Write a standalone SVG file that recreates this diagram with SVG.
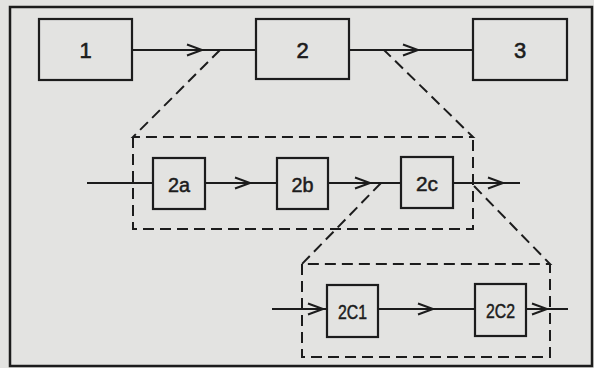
<svg xmlns="http://www.w3.org/2000/svg" xmlns:xlink="http://www.w3.org/1999/xlink" width="594" height="368" viewBox="0 0 594 368">
  <style>
    .box { fill: none; stroke: #1c1c1c; stroke-width: 2.2; }
    .line { fill: none; stroke: #1c1c1c; stroke-width: 2; }
    .dash { fill: none; stroke: #1c1c1c; stroke-width: 2; stroke-dasharray: 11 6; }
    .head { fill: none; stroke: #1c1c1c; stroke-width: 2; stroke-linejoin: miter; }
    .big { font-family: "Liberation Sans", "DejaVu Sans", sans-serif; font-size: 22px; fill: #1c1c1c; stroke: #1c1c1c; stroke-width: 0.6; text-anchor: middle; }
    .small { font-family: "Liberation Sans", "DejaVu Sans", sans-serif; font-size: 19.5px; fill: #1c1c1c; stroke: #1c1c1c; stroke-width: 0.5; text-anchor: middle; }
  </style>
  <defs>
    <path id="chev" d="M-15,-5.5 L0,0 L-15,5.5"/>
  </defs>
  <rect x="0" y="0" width="594" height="368" fill="#e3e3e1"/>
  <rect x="10" y="7" width="582" height="359" fill="none" stroke="#1c1c1c" stroke-width="2.5"/>

  <g id="connectors">
    <path class="line" d="M132,50 H256 M349,50 H473"/>
    <path class="line" d="M87,183 H153 M205,183 H277 M328,183 H401 M453,183 H520"/>
    <path class="line" d="M272,309 H327 M378,309 H475 M526,309 H568"/>
    <g class="head">
      <use xlink:href="#chev" transform="translate(202,50)"/>
      <use xlink:href="#chev" transform="translate(418,50)"/>
      <use xlink:href="#chev" transform="translate(250,183)"/>
      <use xlink:href="#chev" transform="translate(370,183)"/>
      <use xlink:href="#chev" transform="translate(503,183)"/>
      <use xlink:href="#chev" transform="translate(323,309)"/>
      <use xlink:href="#chev" transform="translate(433,309)"/>
      <use xlink:href="#chev" transform="translate(547,309)"/>
    </g>
    <path class="dash" d="M220,50 L133,137 L473,137 L384,50 M133,137 L133,229 L473,229 L473,137"/>
    <path class="dash" d="M381,183 L302,264 L550,264 L473,185 M302,264 L302,357 L550,357 L550,264"/>
  </g>

  <g id="n1"><rect class="box" x="39" y="19" width="93" height="61"/><text class="big" x="85.5" y="58">1</text></g>
  <g id="n2"><rect class="box" x="256" y="19" width="93" height="60"/><text class="big" x="302.5" y="58">2</text></g>
  <g id="n3"><rect class="box" x="473" y="19" width="94" height="61"/><text class="big" x="520" y="58">3</text></g>
  <g id="n2a"><rect class="box" x="153" y="158" width="52" height="51"/><text class="small" x="179" y="191.5" textLength="22" lengthAdjust="spacingAndGlyphs">2a</text></g>
  <g id="n2b"><rect class="box" x="277" y="158" width="51" height="51"/><text class="small" x="302.5" y="191.5" textLength="22" lengthAdjust="spacingAndGlyphs">2b</text></g>
  <g id="n2c"><rect class="box" x="401" y="157" width="52" height="51"/><text class="small" x="427" y="190.5" textLength="22" lengthAdjust="spacingAndGlyphs">2c</text></g>
  <g id="n2C1"><rect class="box" x="327" y="285" width="51" height="52"/><text class="small" x="352.5" y="318.5" textLength="29" lengthAdjust="spacingAndGlyphs">2C1</text></g>
  <g id="n2C2"><rect class="box" x="475" y="284" width="51" height="52"/><text class="small" x="500.5" y="317.5" textLength="29" lengthAdjust="spacingAndGlyphs">2C2</text></g>
</svg>
